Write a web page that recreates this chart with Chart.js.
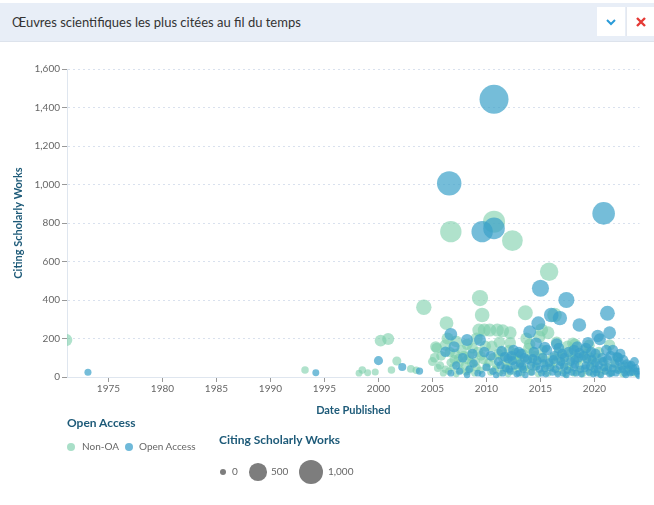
<!DOCTYPE html>
<html>
<head>
<meta charset="utf-8">
<script src="https://cdn.jsdelivr.net/npm/chart.js@4"></script>
<style>
  body { margin: 0; width: 654px; height: 505px; background: #fff; font-family: Lato, sans-serif; position: relative; overflow: hidden; }
  .header { position: absolute; left: 0; top: 3px; width: 654px; height: 38px; background: #e8eef7; border-bottom: 1px solid #dde3ec; }
  .header h1 { margin: 0; position: absolute; left: 12px; top: 11px; font-size: 13px; font-weight: 400; color: #333; }
  .btn { position: absolute; top: 4px; width: 28px; height: 29px; background: #fff; }
  .btn svg { position: absolute; left: 8px; top: 9px; }
  #wrap { position: absolute; left: 0; top: 42px; width: 654px; height: 380px; }
  .lg-title { position: absolute; font-size: 12px; font-weight: 700; color: #1d5a78; white-space: nowrap; }
  .lg-text { position: absolute; font-size: 10px; color: #666; white-space: nowrap; }
  .dot { position: absolute; border-radius: 50%; }
</style>
</head>
<body>
<div class="header">
  <h1>Œuvres scientifiques les plus citées au fil du temps</h1>
  <div class="btn" style="left:597px"><svg width="12" height="12"><path d="M2 4 L6 8 L10 4" stroke="#2a9bd8" stroke-width="2" fill="none"/></svg></div>
  <div class="btn" style="left:626px;border-left:1px solid #e4e8ef"><svg width="12" height="12"><path d="M2 2 L10 10 M10 2 L2 10" stroke="#e53935" stroke-width="2.4" fill="none"/></svg></div>
</div>

<div id="wrap"><canvas id="bubbleChart"></canvas></div>

<div class="lg-title" style="left:67px;top:415px">Open Access</div>
<div class="dot" style="left:67px;top:443px;width:8px;height:8px;background:#a9dfc8"></div>
<div class="lg-text" style="left:82px;top:440px">Non-OA</div>
<div class="dot" style="left:125px;top:443px;width:8px;height:8px;background:#6fb9d9"></div>
<div class="lg-text" style="left:139px;top:440px">Open Access</div>

<div class="lg-title" style="left:219px;top:432px">Citing Scholarly Works</div>
<div id="sizeLegend"></div>

<script>
const xTicks = [1975, 1980, 1985, 1990, 1995, 2000, 2005, 2010, 2015, 2020];
const yTicks = [0, 200, 400, 600, 800, 1000, 1200, 1400, 1600];
const sizeLegendValues = [0, 500, 1000];

// [année, citations]
const nonOaPoints = [
    [1971.1, 192], [1993.2, 36], [1998.2, 20], [1998.5, 36], [1999.0, 22], [1999.7, 26],
    [2000.2, 189], [2000.9, 197], [2001.2, 36], [2001.7, 83], [2003.0, 42], [2003.5, 35],
    [2004.2, 362], [2005.0, 80], [2005.5, 47], [2005.4, 150], [2005.8, 110], [2006.2, 166],
    [2006.3, 280], [2006.7, 755], [2007.1, 120], [2007.4, 95], [2007.7, 140], [2008.0, 60],
    [2008.4, 110], [2008.7, 150], [2009.0, 80], [2009.3, 244], [2009.4, 410], [2009.6, 322],
    [2009.8, 244], [2009.2, 130], [2009.7, 90], [2010.3, 244], [2010.7, 807], [2011.0, 244],
    [2010.5, 160], [2011.1, 120], [2011.5, 100], [2011.8, 70], [2012.1, 140], [2012.2, 177],
    [2012.4, 708], [2012.8, 90], [2013.1, 60], [2013.6, 334], [2013.4, 120], [2013.9, 150],
    [2014.2, 80], [2014.5, 110], [2014.9, 209], [2015.2, 140], [2015.5, 60], [2015.8, 547],
    [2016.1, 100], [2016.3, 322], [2016.7, 130], [2017.1, 70], [2017.5, 160], [2017.8, 90],
    [2018.2, 120], [2018.6, 60], [2019.0, 140], [2019.4, 80], [2019.8, 50], [2020.2, 100],
    [2020.7, 40], [2021.4, 166], [2021.8, 70], [2022.4, 40], [2023.0, 30], [2023.7, 20],
    [2006.0, 20], [2006.5, 30], [2006.9, 50], [2007.2, 15], [2007.6, 35], [2008.1, 25],
    [2008.5, 45], [2008.9, 20], [2009.4, 35], [2010.0, 55], [2010.4, 25], [2010.8, 40],
    [2011.2, 20], [2011.6, 35], [2012.0, 15], [2012.5, 30], [2012.9, 45], [2013.3, 20],
    [2013.7, 40], [2014.1, 25], [2014.4, 50], [2014.8, 15], [2015.3, 30], [2015.7, 20],
    [2016.2, 45], [2016.6, 25], [2017.0, 35], [2017.3, 15], [2017.7, 40], [2018.1, 20],
    [2018.5, 30], [2018.9, 15], [2019.2, 35], [2019.6, 20], [2020.1, 25], [2020.5, 15],
    [2021.0, 30], [2021.5, 20], [2022.0, 40], [2022.6, 15], [2023.2, 25],
    [2007.2, 185], [2008.2, 170], [2009.1, 200], [2011.2, 180], [2012.7, 125], [2014.0, 170],
    [2018.0, 175], [2005.2, 100], [2006.7, 75], [2008.2, 90],
    [2005.3, 157], [2006.4, 200], [2005.7, 60], [2006.2, 40], [2006.6, 130], [2007.0, 90],
    [2007.5, 70], [2007.9, 110], [2008.3, 30], [2008.6, 75], [2009.1, 50], [2009.5, 110],
    [2009.9, 160], [2010.2, 75], [2010.6, 100], [2010.9, 60], [2011.4, 130], [2011.7, 50],
    [2012.1, 85], [2012.3, 55], [2012.6, 100], [2013.0, 110], [2013.2, 80], [2013.5, 50],
    [2013.8, 95], [2014.3, 130], [2014.7, 70], [2015.0, 100], [2015.4, 90], [2016.0, 60],
    [2016.4, 80], [2016.8, 100], [2017.2, 110], [2017.6, 55], [2017.9, 130], [2018.4, 85],
    [2018.8, 100], [2019.3, 120], [2019.7, 100], [2020.0, 70], [2020.4, 130], [2020.9, 80],
    [2021.2, 50], [2022.1, 100], [2022.8, 60], [2023.4, 45], [2018.2, 170], [2016.5, 180],
    [2019.5, 165], [2012.2, 230], [2011.5, 240], [2015.1, 245], [2015.7, 230], [2013.7, 200]
];

const oaPoints = [
    [1973.1, 25], [1994.2, 22], [2000.0, 85], [2002.2, 52], [2003.8, 31],
    [2006.2, 131], [2006.55, 1006], [2006.7, 222], [2007.0, 157], [2008.2, 192], [2009.4, 192],
    [2009.6, 755], [2010.7, 1443], [2010.7, 772], [2014.0, 235], [2014.6, 175], [2014.8, 279],
    [2015.0, 461], [2016.0, 322], [2016.5, 171], [2016.8, 306], [2017.4, 400], [2018.4, 157],
    [2018.6, 270], [2019.4, 178], [2020.3, 213], [2020.5, 196], [2020.85, 850], [2021.1, 140],
    [2021.2, 331], [2021.4, 230], [2022.1, 105], [2023.4, 62], [2023.8, 47], [2024.2, 30],
    [2006.7, 20], [2007.2, 60], [2007.8, 100], [2008.4, 40], [2008.8, 70], [2009.2, 20],
    [2010.0, 50], [2010.6, 30], [2011.1, 80], [2011.5, 20], [2011.8, 45], [2012.2, 30],
    [2012.6, 60], [2013.0, 20], [2013.4, 40], [2013.8, 90], [2014.2, 25], [2014.6, 55],
    [2015.1, 20], [2015.4, 45], [2015.8, 75], [2016.1, 25], [2016.4, 40], [2016.8, 60],
    [2017.1, 20], [2017.5, 35], [2017.8, 80], [2018.1, 50], [2018.3, 20], [2018.7, 40],
    [2019.0, 110], [2019.2, 60], [2019.5, 25], [2019.8, 90], [2020.0, 40], [2020.2, 20],
    [2020.4, 60], [2020.7, 100], [2021.0, 30], [2021.3, 50], [2021.6, 20], [2021.9, 70],
    [2022.2, 35], [2022.5, 55], [2022.8, 20], [2023.1, 40], [2023.5, 25], [2024.0, 15],
    [2013.2, 120], [2014.4, 130], [2015.6, 140], [2017.0, 120], [2017.6, 130], [2018.2, 90],
    [2019.7, 130], [2010.4, 110], [2012.0, 95], [2012.5, 140], [2015.2, 100], [2021.7, 140],
    [2022.7, 90], [2023.0, 70],
    [2011.3, 60], [2011.7, 105], [2012.1, 40], [2012.4, 85], [2012.8, 15], [2013.1, 70],
    [2013.3, 55], [2013.6, 10], [2014.1, 60], [2014.3, 95], [2014.9, 40], [2015.3, 70],
    [2015.5, 15], [2015.9, 50], [2016.2, 90], [2016.6, 15], [2016.9, 80], [2017.2, 55],
    [2017.4, 10], [2017.9, 25], [2018.2, 65], [2018.5, 100], [2018.8, 15], [2019.1, 45],
    [2019.3, 95], [2019.6, 55], [2019.9, 15], [2020.1, 75], [2020.3, 40], [2020.6, 10],
    [2020.8, 80], [2020.9, 50], [2021.2, 90], [2021.4, 15], [2021.7, 45], [2022.0, 20],
    [2022.3, 80], [2022.6, 40], [2022.9, 10], [2023.2, 60], [2023.3, 20], [2023.6, 45],
    [2023.9, 30], [2024.1, 5], [2012.3, 110], [2013.5, 100], [2014.7, 85], [2016.3, 110],
    [2017.2, 100], [2018.6, 125], [2020.1, 120], [2021.5, 110], [2022.4, 120], [2016.7, 150],
    [2019.2, 150], [2018.1, 140], [2015.4, 155], [2013.0, 130], [2011.4, 135], [2009.8, 130],
    [2008.7, 120], [2007.5, 30], [2008.2, 10], [2009.6, 15], [2010.9, 10], [2023.7, 80],
    [2022.2, 100]
];

const maxCites = 1443;
const minR = 3, maxR = 14.5;
function bubbleRadius(v) {
    return Math.sqrt(minR * minR + (maxR * maxR - minR * minR) * v / maxCites);
}

const textColor = '#666';
const titleColor = '#1d5a78';
const gridColor = '#d9e1ee';

// légende des tailles
const sizeLegend = document.getElementById('sizeLegend');
const sizeX = [223, 258, 311];
const labelX = [232, 271, 328];
sizeLegendValues.forEach((v, i) => {
    const r = bubbleRadius(v);
    const d = document.createElement('div');
    d.className = 'dot';
    d.style.cssText = `left:${sizeX[i] - r}px;top:${472 - r}px;width:${2 * r}px;height:${2 * r}px;background:#7d7d7d`;
    sizeLegend.appendChild(d);
    const t = document.createElement('div');
    t.className = 'lg-text';
    t.style.cssText = `left:${labelX[i]}px;top:465px`;
    t.textContent = v.toLocaleString('en-US');
    sizeLegend.appendChild(t);
});

const ctx = document.getElementById('bubbleChart');

new Chart(ctx, {
    type: 'bubble',
    data: {
        datasets: [
            {
                label: 'Non-OA',
                data: nonOaPoints.map(p => ({ x: p[0], y: p[1] })),
                backgroundColor: 'rgba(123, 207, 170, 0.6)',
                borderWidth: 0,
                order: 2,
                clip: { left: 0, right: 0, top: 20, bottom: 6 }
            },
            {
                label: 'Open Access',
                data: oaPoints.map(p => ({ x: p[0], y: p[1] })),
                backgroundColor: 'rgba(59, 161, 201, 0.7)',
                borderWidth: 0,
                order: 1,
                clip: { left: 0, right: 0, top: 20, bottom: 6 }
            }
        ]
    },
    options: {
        responsive: true,
        maintainAspectRatio: false,
        animation: false,
        events: [],
        layout: {
            padding: { left: 0, right: 11, top: 27, bottom: 0 }
        },
        elements: {
            point: {
                radius: c => bubbleRadius(c.raw ? c.raw.y : 0)
            }
        },
        plugins: {
            legend: { display: false },
            tooltip: { enabled: false }
        },
        scales: {
            x: {
                type: 'linear',
                min: 1971.16,
                max: 2024.17,
                afterBuildTicks: s => { s.ticks = xTicks.map(v => ({ value: v })); },
                afterFit: s => { s.height = 45; },
                ticks: {
                    color: textColor,
                    font: { family: 'Lato', size: 10 },
                    padding: 1,
                    maxRotation: 0,
                    callback: v => String(v)
                },
                grid: {
                    drawOnChartArea: false,
                    drawTicks: true,
                    tickLength: 5,
                    tickColor: '#999'
                },
                border: { color: '#dfe6ef', width: 1 },
                title: {
                    display: true,
                    text: 'Date Published',
                    color: titleColor,
                    font: { family: 'Lato', size: 11, weight: 'bold' },
                    padding: { top: 4, bottom: 5 }
                }
            },
            y: {
                min: 0,
                max: 1600,
                afterBuildTicks: s => { s.ticks = yTicks.map(v => ({ value: v })); },
                afterFit: s => { s.width = 67; },
                ticks: {
                    color: textColor,
                    font: { family: 'Lato', size: 10 },
                    padding: 2,
                    callback: v => v.toLocaleString('en-US')
                },
                grid: {
                    color: gridColor,
                    tickLength: 5,
                    tickColor: '#999',
                    tickBorderDash: []
                },
                border: { color: '#dfe6ef', width: 1, dash: [2, 3] },
                title: {
                    display: true,
                    text: 'Citing Scholarly Works',
                    color: titleColor,
                    font: { family: 'Lato', size: 11, weight: 'bold' },
                    padding: { top: 12, bottom: 0 }
                }
            }
        }
    }
});
</script>
</body>
</html>
